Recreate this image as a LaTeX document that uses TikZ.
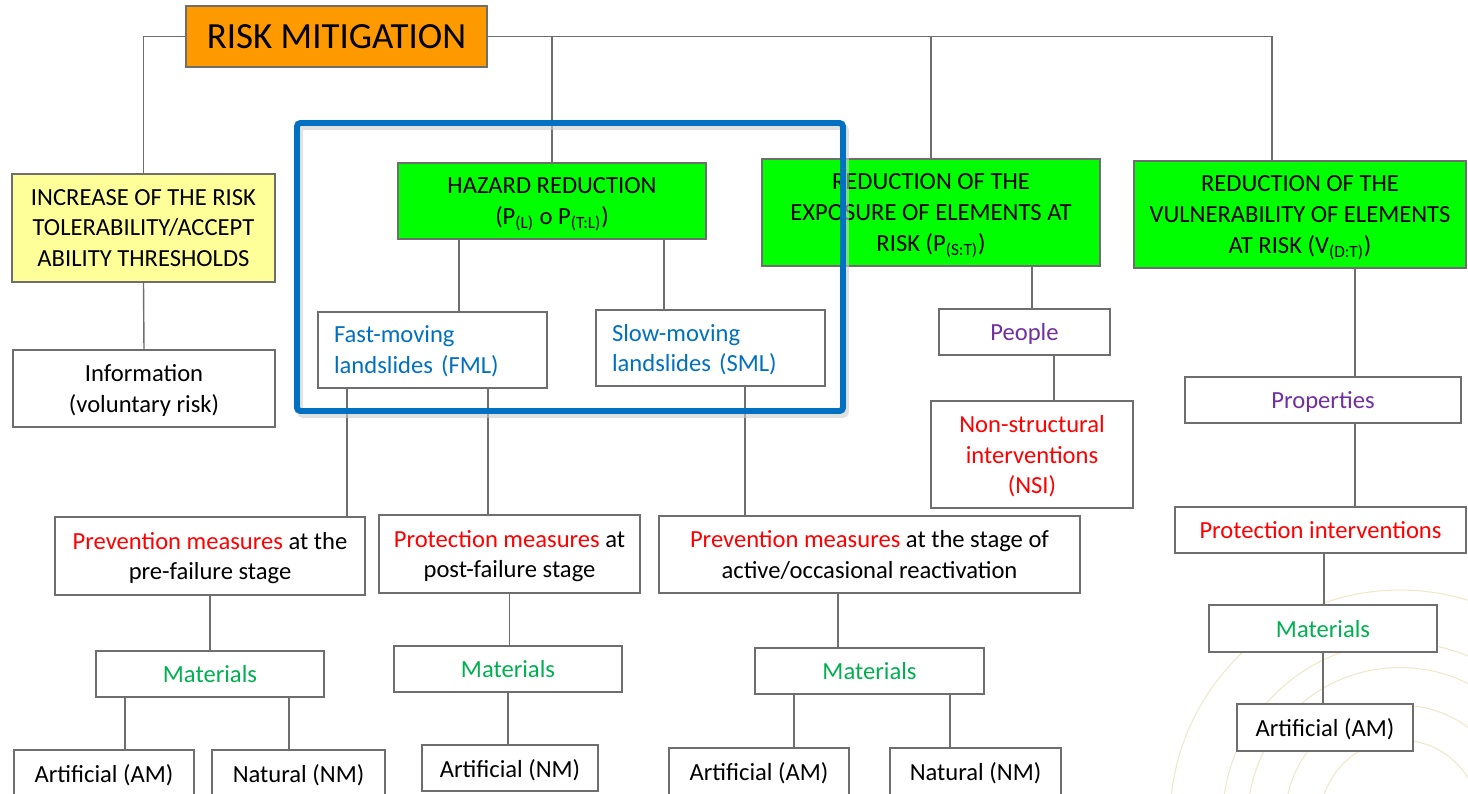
\documentclass[tikz,border=0pt]{standalone}
\usepackage{fontspec}
\setmainfont{Carlito}
\usepackage{xcolor}
\definecolor{rmorange}{HTML}{FF9900}
\definecolor{rmyellow}{HTML}{FFFF99}
\definecolor{rmgreen}{HTML}{00FF00}
\definecolor{rmblue}{HTML}{0070C0}
\definecolor{rmpurple}{HTML}{7030A0}
\definecolor{rmtgreen}{HTML}{00B050}
\definecolor{rmgray}{HTML}{6E6E6E}
\definecolor{rmwmark}{HTML}{F0E6C8}
\usepackage{tikz}

\begin{document}
\begin{tikzpicture}[x=0.02cm,y=-0.02cm,line width=0.8pt,font=\fontsize{14}{17.5}\selectfont]
              \tikzstyle{box}=[draw=rmgray,fill=white,align=center,inner sep=0pt,text depth=0pt]
              \tikzstyle{obox}=[box,fill=rmorange]
              \tikzstyle{ybox}=[box,fill=rmyellow]
              \tikzstyle{gbox}=[box,fill=rmgreen]
              \tikzstyle{lbox}=[box,align=left,text=rmblue,inner xsep=0.32cm,text width=3.94cm,text depth=0.62cm,minimum height=1.52cm]
              \tikzstyle{ln}=[draw=rmgray]
              \tikzstyle{wm}=[draw=rmwmark,line width=0.6pt]
              \tikzstyle{frame}=[draw=rmblue,line width=3.4pt,rounded corners=2pt]

              \useasboundingbox (0,0) rectangle (1468,794);
              \clip (0,0) rectangle (1468,794);

              % faint logo in the corner
              \draw[wm] (1400,820) circle[radius=4.6cm];
              \draw[wm] (1400,820) circle[radius=3.55cm];
              \draw[wm] (1400,820) circle[radius=3.05cm];
              \draw[wm] (1400,820) circle[radius=2.3cm];
              \draw[wm] (1400,820) circle[radius=1.6cm];

              \node[obox, minimum width=6.02cm, minimum height=1.22cm] (rm)   at (336.5,36.5)
                    {\fontsize{21}{25}\selectfont RISK MITIGATION};
              \node[ybox, minimum width=5.26cm, minimum height=2.16cm] (inc)  at (143.5,228)
                    {INCREASE OF THE RISK\\TOLERABILITY/ACCEPT\\ABILITY THRESHOLDS};
              \node[gbox, minimum width=6.16cm, minimum height=1.52cm] (haz)  at (552,201)
                    {HAZARD REDUCTION\\(P\textsubscript{(L)} o P\textsubscript{(T:L)})};
              \node[gbox, minimum width=6.76cm, minimum height=2.14cm] (exp)  at (931,212.5)
                    {REDUCTION OF THE\\EXPOSURE OF ELEMENTS AT\\RISK (P\textsubscript{(S:T)})};
              \node[gbox, minimum width=6.64cm, minimum height=2.14cm] (vul)  at (1300,214.5)
                    {REDUCTION OF THE\\VULNERABILITY OF ELEMENTS\\AT RISK (V\textsubscript{(D:T)})};

              \node[box, minimum width=5.24cm, minimum height=1.54cm]  (info) at (144,388.5)
                    {Information\\(voluntary risk)};
              \node[lbox] (fml) at (432.5,350) {Fast-moving\\landslides (FML)};
              \node[lbox] (sml) at (710.5,348) {Slow-moving\\landslides (SML)};
              \node[box, minimum width=3.42cm, minimum height=0.92cm, text=rmpurple] (peo)  at (1024.5,332) {People};
              \node[box, minimum width=4.04cm, minimum height=2.14cm, text=red]      (nsi)  at (1032,454.5)
                    {Non-structural\\interventions\\(NSI)};
              \node[box, minimum width=5.52cm, minimum height=0.92cm, text=rmpurple] (prop) at (1323,400) {Properties};
              \node[box, minimum width=5.82cm, minimum height=0.92cm, text=red]      (pint) at (1320.5,530) {Protection interventions};

              \node[box, minimum width=6.2cm, minimum height=1.56cm]  (pre1) at (210,556)
                    {\textcolor{red}{Prevention measures} at the\\pre-failure stage};
              \node[box, minimum width=5.22cm, minimum height=1.56cm] (prot) at (509.5,554)
                    {\textcolor{red}{Protection measures} at\\post-failure stage};
              \node[box, minimum width=8.42cm, minimum height=1.54cm] (pre2) at (869.5,554.5)
                    {\textcolor{red}{Prevention measures} at the stage of\\active/occasional reactivation};

              \node[box, minimum width=4.56cm, minimum height=0.92cm, text=rmtgreen] (mat1) at (210,674)   {Materials};
              \node[box, minimum width=4.56cm, minimum height=0.92cm, text=rmtgreen] (mat2) at (508,669)   {Materials};
              \node[box, minimum width=4.58cm, minimum height=0.92cm, text=rmtgreen] (mat3) at (869.5,671) {Materials};
              \node[box, minimum width=4.56cm, minimum height=0.94cm, text=rmtgreen] (mat4) at (1323,628.5) {Materials};

              \node[box, minimum width=3.6cm,  minimum height=0.94cm] (art1) at (104,773.5)   {Artificial (AM)};
              \node[box, minimum width=3.46cm, minimum height=0.94cm] (nat1) at (298.5,773.5) {Natural (NM)};
              \node[box, minimum width=3.52cm, minimum height=0.92cm] (art2) at (510,768)     {Artificial (NM)};
              \node[box, minimum width=3.6cm,  minimum height=0.94cm] (art3) at (759,771.5)   {Artificial (AM)};
              \node[box, minimum width=3.42cm, minimum height=0.94cm] (nat3) at (975.5,771.5) {Natural (NM)};
              \node[box, minimum width=3.52cm, minimum height=0.94cm] (art4) at (1325,727.5)  {Artificial (AM)};

              % connectors
              \draw[ln] (rm.west) -| (inc.north);
              \draw[ln] (rm.east) -| (vul.north -| 1272,0);
              \draw[ln] (rm.east -| haz.north) -- (haz.north);
              \draw[ln] (rm.east -| exp.north) -- (exp.north);
              \draw[ln] (inc.south) -- (info.north);
              \draw[ln] (haz.south -| 459,0)  -- (fml.north -| 459,0);
              \draw[ln] (haz.south -| 664,0)  -- (sml.north -| 664,0);
              \draw[ln] (fml.south -| 347,0)  -- (pre1.north -| 347,0);
              \draw[ln] (fml.south -| 488,0)  -- (prot.north -| 488,0);
              \draw[ln] (sml.south -| 745,0)  -- (pre2.north -| 745,0);
              \draw[ln] (pre1.south) -- (mat1.north);
              \draw[ln] (mat1.south -| 125,0) -- (art1.north -| 125,0);
              \draw[ln] (mat1.south -| 289,0) -- (nat1.north -| 289,0);
              \draw[ln] (prot.south) -- (prot.south |- mat2.north);
              \draw[ln] (mat2.south) -- (mat2.south |- art2.north);
              \draw[ln] (pre2.south -| 838,0) -- (mat3.north -| 838,0);
              \draw[ln] (mat3.south -| 794,0) -- (art3.north -| 794,0);
              \draw[ln] (mat3.south -| 950,0) -- (nat3.north -| 950,0);
              \draw[ln] (exp.south -| 1032,0) -- (peo.north -| 1032,0);
              \draw[ln] (peo.south -| 1054,0) -- (nsi.north -| 1054,0);
              \draw[ln] (vul.south -| 1355,0) -- (prop.north -| 1355,0);
              \draw[ln] (prop.south -| 1355,0) -- (pint.north -| 1355,0);
              \draw[ln] (pint.south -| 1324,0) -- (mat4.north -| 1324,0);
              \draw[ln] (mat4.south) -- (mat4.south |- art4.north);

              % blue frame round the landslide part
              \draw[black!20,line width=3.4pt,rounded corners=2pt,opacity=0.6] (300,127) rectangle (846,415);
              \draw[frame] (297,123) rectangle (843,411);
\end{tikzpicture}
\end{document}
